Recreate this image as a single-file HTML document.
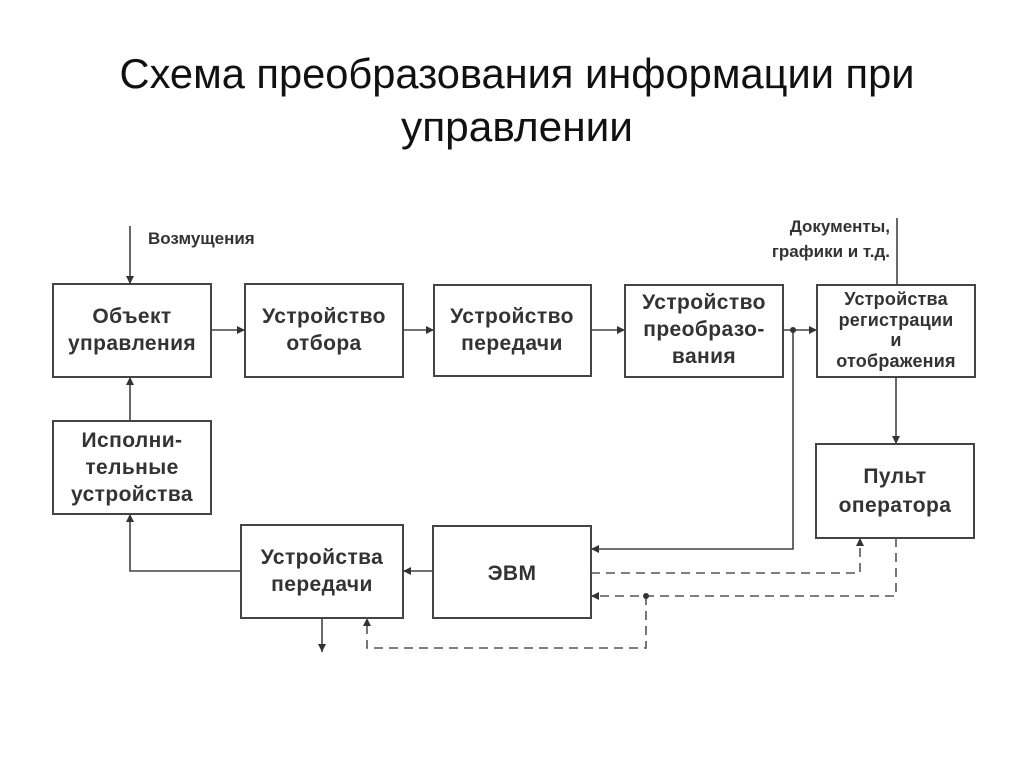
<!DOCTYPE html>
<html><head><meta charset="utf-8"><style>
html,body{margin:0;padding:0;background:#fff;}
svg{display:block;}
text{font-family:"Liberation Sans",sans-serif;}
.b{font-weight:bold;font-size:21px;fill:#333;text-anchor:middle;letter-spacing:0.4px;}
.s{font-weight:bold;font-size:18px;fill:#333;text-anchor:middle;letter-spacing:0.2px;}
</style></head><body>
<svg width="1024" height="767" viewBox="0 0 1024 767" xmlns="http://www.w3.org/2000/svg">
<defs>
<marker id="a" viewBox="0 0 10 10" refX="10" refY="5" markerWidth="8" markerHeight="8" markerUnits="userSpaceOnUse" orient="auto"><path d="M0,0 L10,5 L0,10 z" fill="#333"/></marker>
</defs>
<text x="517" y="88" font-size="42" text-anchor="middle" textLength="795" lengthAdjust="spacingAndGlyphs" fill="#111">Схема преобразования информации при</text>
<text x="517" y="141" font-size="42" text-anchor="middle" textLength="232" lengthAdjust="spacingAndGlyphs" fill="#111">управлении</text>

<g fill="none" stroke="#444" stroke-width="2">
<rect x="53" y="284" width="158" height="93"/>
<rect x="245" y="284" width="158" height="93"/>
<rect x="434" y="285" width="157" height="91"/>
<rect x="625" y="285" width="158" height="92"/>
<rect x="817" y="285" width="158" height="92"/>
<rect x="53" y="421" width="158" height="93"/>
<rect x="816" y="444" width="158" height="94"/>
<rect x="241" y="525" width="162" height="93"/>
<rect x="433" y="526" width="158" height="92"/>
</g>

<g fill="none" stroke="#444" stroke-width="1.6">
<line x1="130" y1="226" x2="130" y2="284" marker-end="url(#a)"/>
<line x1="897" y1="218" x2="897" y2="285"/>
<line x1="211" y1="330" x2="245" y2="330" marker-end="url(#a)"/>
<line x1="403" y1="330" x2="434" y2="330" marker-end="url(#a)"/>
<line x1="591" y1="330" x2="625" y2="330" marker-end="url(#a)"/>
<line x1="783" y1="330" x2="817" y2="330" marker-end="url(#a)"/>
<polyline points="793,330 793,549 591,549" marker-end="url(#a)"/>
<line x1="896" y1="377" x2="896" y2="444" marker-end="url(#a)"/>
<line x1="130" y1="421" x2="130" y2="377" marker-end="url(#a)"/>
<polyline points="241,571 130,571 130,514" marker-end="url(#a)"/>
<line x1="433" y1="571" x2="403" y2="571" marker-end="url(#a)"/>
<line x1="322" y1="618" x2="322" y2="652" marker-end="url(#a)"/>
</g>
<g fill="none" stroke="#555" stroke-width="1.6" stroke-dasharray="9,6">
<polyline points="591,573 860,573 860,538" marker-end="url(#a)"/>
<polyline points="896,538 896,596 591,596" marker-end="url(#a)"/>
<polyline points="646,596 646,648 367,648 367,618" marker-end="url(#a)"/>
</g>
<circle cx="793" cy="330" r="3" fill="#333"/>
<circle cx="646" cy="596" r="3" fill="#333"/>

<text x="148" y="244" font-weight="bold" font-size="17" fill="#333">Возмущения</text>
<text x="890" y="232" font-weight="bold" font-size="17" fill="#333" text-anchor="end">Документы,</text>
<text x="890" y="257" font-weight="bold" font-size="17" fill="#333" text-anchor="end">графики и т.д.</text>

<text class="b" x="132" y="323">Объект</text>
<text class="b" x="132" y="350">управления</text>
<text class="b" x="324" y="323">Устройство</text>
<text class="b" x="324" y="350">отбора</text>
<text class="b" x="512" y="323">Устройство</text>
<text class="b" x="512" y="350">передачи</text>
<text class="b" x="704" y="309">Устройство</text>
<text class="b" x="704" y="336">преобразо-</text>
<text class="b" x="704" y="363">вания</text>
<text class="s" x="896" y="305">Устройства</text>
<text class="s" x="896" y="326">регистрации</text>
<text class="s" x="896" y="346">и</text>
<text class="s" x="896" y="367">отображения</text>
<text class="b" x="132" y="447">Исполни-</text>
<text class="b" x="132" y="474">тельные</text>
<text class="b" x="132" y="501">устройства</text>
<text class="b" x="895" y="483">Пульт</text>
<text class="b" x="895" y="512">оператора</text>
<text class="b" x="322" y="564">Устройства</text>
<text class="b" x="322" y="591">передачи</text>
<text class="b" x="512" y="580">ЭВМ</text>
</svg>
</body></html>
